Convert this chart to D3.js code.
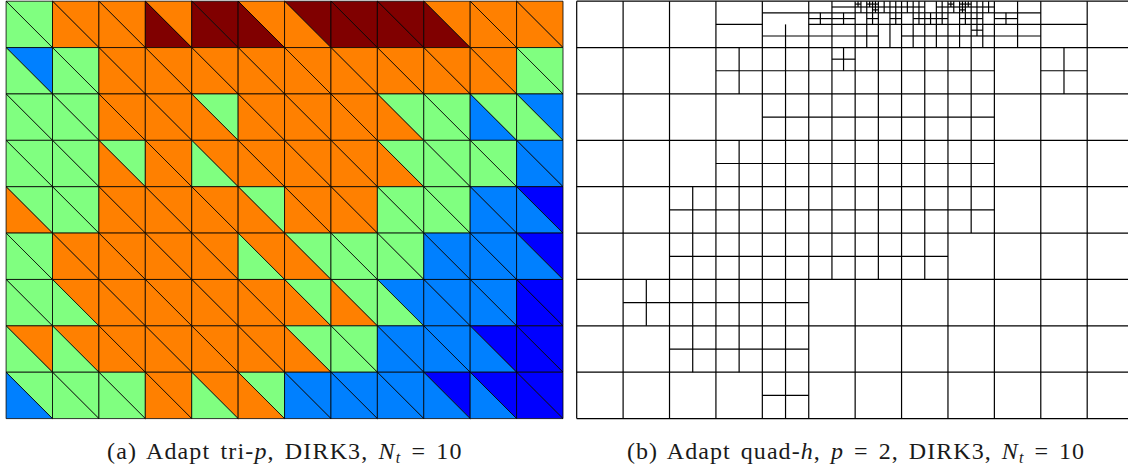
<!DOCTYPE html>
<html>
<head>
<meta charset="utf-8">
<script src="https://cdnjs.cloudflare.com/ajax/libs/d3/7.8.5/d3.min.js"></script>
<style>
  html, body { margin: 0; padding: 0; background: #fff; overflow: hidden; }
  svg { display: block; }
  text { font-family: "Liberation Serif", serif; fill: #1a1a1a; }
</style>
</head>
<body>
<svg id="chart" width="1128" height="468"></svg>
<script>
// p level of each triangle: 0 = p0 ... 4 = p4
let pColors = ["#0000ff", "#0080ff", "#80ff80", "#ff8000", "#800000"];

let upperTriangles = [
  [2, 3, 3, 3, 4, 3, 4, 4, 4, 3, 3, 3],
  [1, 2, 3, 3, 3, 3, 3, 3, 3, 3, 3, 2],
  [2, 2, 3, 3, 2, 3, 3, 3, 2, 2, 2, 1],
  [2, 2, 2, 3, 3, 3, 3, 3, 2, 2, 2, 1],
  [2, 2, 3, 3, 3, 2, 3, 3, 2, 2, 1, 0],
  [2, 3, 3, 3, 3, 3, 2, 2, 2, 1, 1, 0],
  [2, 3, 3, 3, 3, 3, 2, 2, 1, 1, 1, 0],
  [3, 3, 3, 3, 3, 3, 2, 2, 1, 1, 0, 0],
  [2, 2, 2, 3, 3, 2, 1, 1, 1, 0, 0, 0]
];

let lowerTriangles = [
  [2, 3, 3, 4, 4, 4, 3, 4, 4, 4, 3, 3],
  [2, 2, 3, 3, 3, 3, 3, 3, 3, 3, 3, 2],
  [2, 2, 3, 3, 3, 3, 3, 3, 3, 2, 1, 2],
  [2, 2, 3, 3, 2, 3, 3, 3, 3, 2, 2, 1],
  [3, 2, 3, 3, 3, 3, 3, 3, 2, 2, 1, 1],
  [2, 3, 3, 3, 3, 2, 3, 2, 2, 1, 1, 1],
  [2, 2, 3, 3, 3, 3, 3, 3, 2, 1, 1, 0],
  [2, 2, 3, 3, 3, 3, 3, 2, 1, 1, 1, 0],
  [1, 2, 2, 3, 2, 3, 1, 1, 1, 1, 1, 0]
];

// Refinement of the quad mesh, [x, y, w, h] in coarse cell units
let splitBoth = [
  // coarse cells
  [3, 1, 1, 1], [4, 1, 1, 1], [5, 1, 1, 1], [6, 1, 1, 1], [7, 1, 1, 1], [8, 1, 1, 1], [10, 1, 1, 1],
  [4, 2, 1, 1], [5, 2, 1, 1], [6, 2, 1, 1], [7, 2, 1, 1], [8, 2, 1, 1],
  [3, 3, 1, 1], [4, 3, 1, 1], [5, 3, 1, 1], [6, 3, 1, 1], [7, 3, 1, 1], [8, 3, 1, 1],
  [2, 4, 1, 1], [3, 4, 1, 1], [4, 4, 1, 1], [5, 4, 1, 1], [6, 4, 1, 1], [7, 4, 1, 1], [8, 4, 1, 1],
  [2, 5, 1, 1], [3, 5, 1, 1], [4, 5, 1, 1], [5, 5, 1, 1], [6, 5, 1, 1], [7, 5, 1, 1],
  [1, 6, 1, 1], [2, 6, 1, 1], [3, 6, 1, 1], [4, 6, 1, 1],
  [2, 7, 1, 1], [3, 7, 1, 1], [4, 7, 1, 1],
  [4, 8, 1, 1],
  [5, 0, 1, 1], [6, 0, 1, 1], [7, 0, 1, 1], [8, 0, 1, 1], [9, 0, 1, 1],
  // half cells
  [5.5, 1, .5, .5], [4, .5, 1, .5],
  [6, 0, .5, .5], [6.5, 0, .5, .5], [7, 0, .5, .5], [7.5, 0, .5, .5], [8, 0, .5, .5], [8.5, 0, .5, .5],
  [6, .5, .5, .5], [7, .5, .5, .5], [7.5, .5, .5, .5], [8, .5, .5, .5], [8.5, .5, .5, .5],
  // quarter cells
  [5, .25, .5, .25], [5.5, .25, .5, .25], [9, .25, .5, .25],
  [6, 0, .25, .25], [6.25, 0, .25, .25], [6.5, 0, .25, .25], [6.75, 0, .25, .25],
  [7, 0, .25, .25], [7.25, 0, .25, .25], [7.75, 0, .25, .25],
  [8, 0, .25, .25], [8.25, 0, .25, .25], [8.5, 0, .25, .25], [8.75, 0, .25, .25],
  [6.25, .25, .25, .25], [6.75, .25, .25, .25], [7.25, .25, .25, .25], [7.5, .25, .25, .25],
  [7.75, .25, .25, .25], [8.25, .25, .25, .25], [8.5, .25, .25, .25],
  [8.5, .5, .25, .25],
  // eighth cells
  [6, 0, .125, .125], [6.25, 0, .125, .125], [6.375, 0, .125, .125], [6.375, .125, .125, .125],
  [8, 0, .125, .125], [8.25, 0, .125, .125], [8.375, 0, .125, .125], [8.25, .125, .125, .125]
];

let splitHorizontal = [
  [3, 0, 1, 1], [10, 0, 1, 1], [4, 0, 1, .5],
  [5, 0, 1, .5], [5.5, 0, .5, .25], [5, .5, 1, .5],
  [9, 0, 1, .5], [9, .5, 1, .5]
];

let splitVertical = [
  [6.5, .5, .5, .5]
];

let captionA = [
  { t: "(a) Adapt tri-" }, { t: "p", i: true }, { t: ", DIRK3, " },
  { t: "N", i: true }, { t: "t", i: true, sub: true }, { t: " = 10" }
];
let captionB = [
  { t: "(b) Adapt quad-" }, { t: "h", i: true }, { t: ", " }, { t: "p", i: true },
  { t: " = 2, DIRK3, " }, { t: "N", i: true }, { t: "t", i: true, sub: true }, { t: " = 10" }
];

let svg = d3.select("#chart");

let xTri = d3.scaleLinear().domain([0, 12]).range([6.1, 563]);
let xQuad = d3.scaleLinear().domain([0, 12]).range([576.7, 1133.6]);
let y = d3.scaleLinear().domain([0, 9]).range([1.2, 418.6]);

let lineGen = d3.line().x(d => xTri(d[0])).y(d => y(d[1]));

// Left panel: two triangles per cell
let triangles = [];
upperTriangles.forEach(function(row, r) {
  row.forEach(function(p, c) {
    triangles.push({ p: p, pts: [[c, r], [c + 1, r], [c + 1, r + 1]] });
    triangles.push({ p: lowerTriangles[r][c], pts: [[c, r], [c + 1, r + 1], [c, r + 1]] });
  });
});

svg.append("g")
  .selectAll("path")
  .data(triangles)
  .enter()
  .append("path")
  .attr("d", d => lineGen(d.pts) + "Z")
  .attr("fill", d => pColors[d.p])
  .attr("stroke", "#000")
  .attr("stroke-width", 0.8);

// Right panel: collect the mesh edges
let segments = [];
d3.range(13).forEach(c => segments.push([c, 0, c, 9]));
d3.range(10).forEach(r => segments.push([0, r, 12, r]));
splitBoth.concat(splitVertical).forEach(function(d) {
  segments.push([d[0] + d[2] / 2, d[1], d[0] + d[2] / 2, d[1] + d[3]]);
});
splitBoth.concat(splitHorizontal).forEach(function(d) {
  segments.push([d[0], d[1] + d[3] / 2, d[0] + d[2], d[1] + d[3] / 2]);
});

svg.append("g")
  .selectAll("line")
  .data(segments)
  .enter()
  .append("line")
  .attr("x1", d => xQuad(d[0]))
  .attr("y1", d => y(d[1]))
  .attr("x2", d => xQuad(d[2]))
  .attr("y2", d => y(d[3]))
  .attr("stroke", "#000")
  .attr("stroke-width", 1.2);

// Captions
function caption(parts, x, spacing) {
  let text = svg.append("text")
    .attr("x", x)
    .attr("y", 458.5)
    .attr("font-size", 24)
    .attr("letter-spacing", spacing)
    .attr("word-spacing", 3)
    .style("white-space", "pre");
  parts.forEach(function(d) {
    text.append("tspan")
      .attr("font-style", d.i ? "italic" : "normal")
      .attr("font-size", d.sub ? 16 : null)
      .attr("baseline-shift", d.sub ? "-4" : null)
      .text(d.t);
  });
}
caption(captionA, 107, 1.15);
caption(captionB, 627, 1.05);
</script>
</body>
</html>
